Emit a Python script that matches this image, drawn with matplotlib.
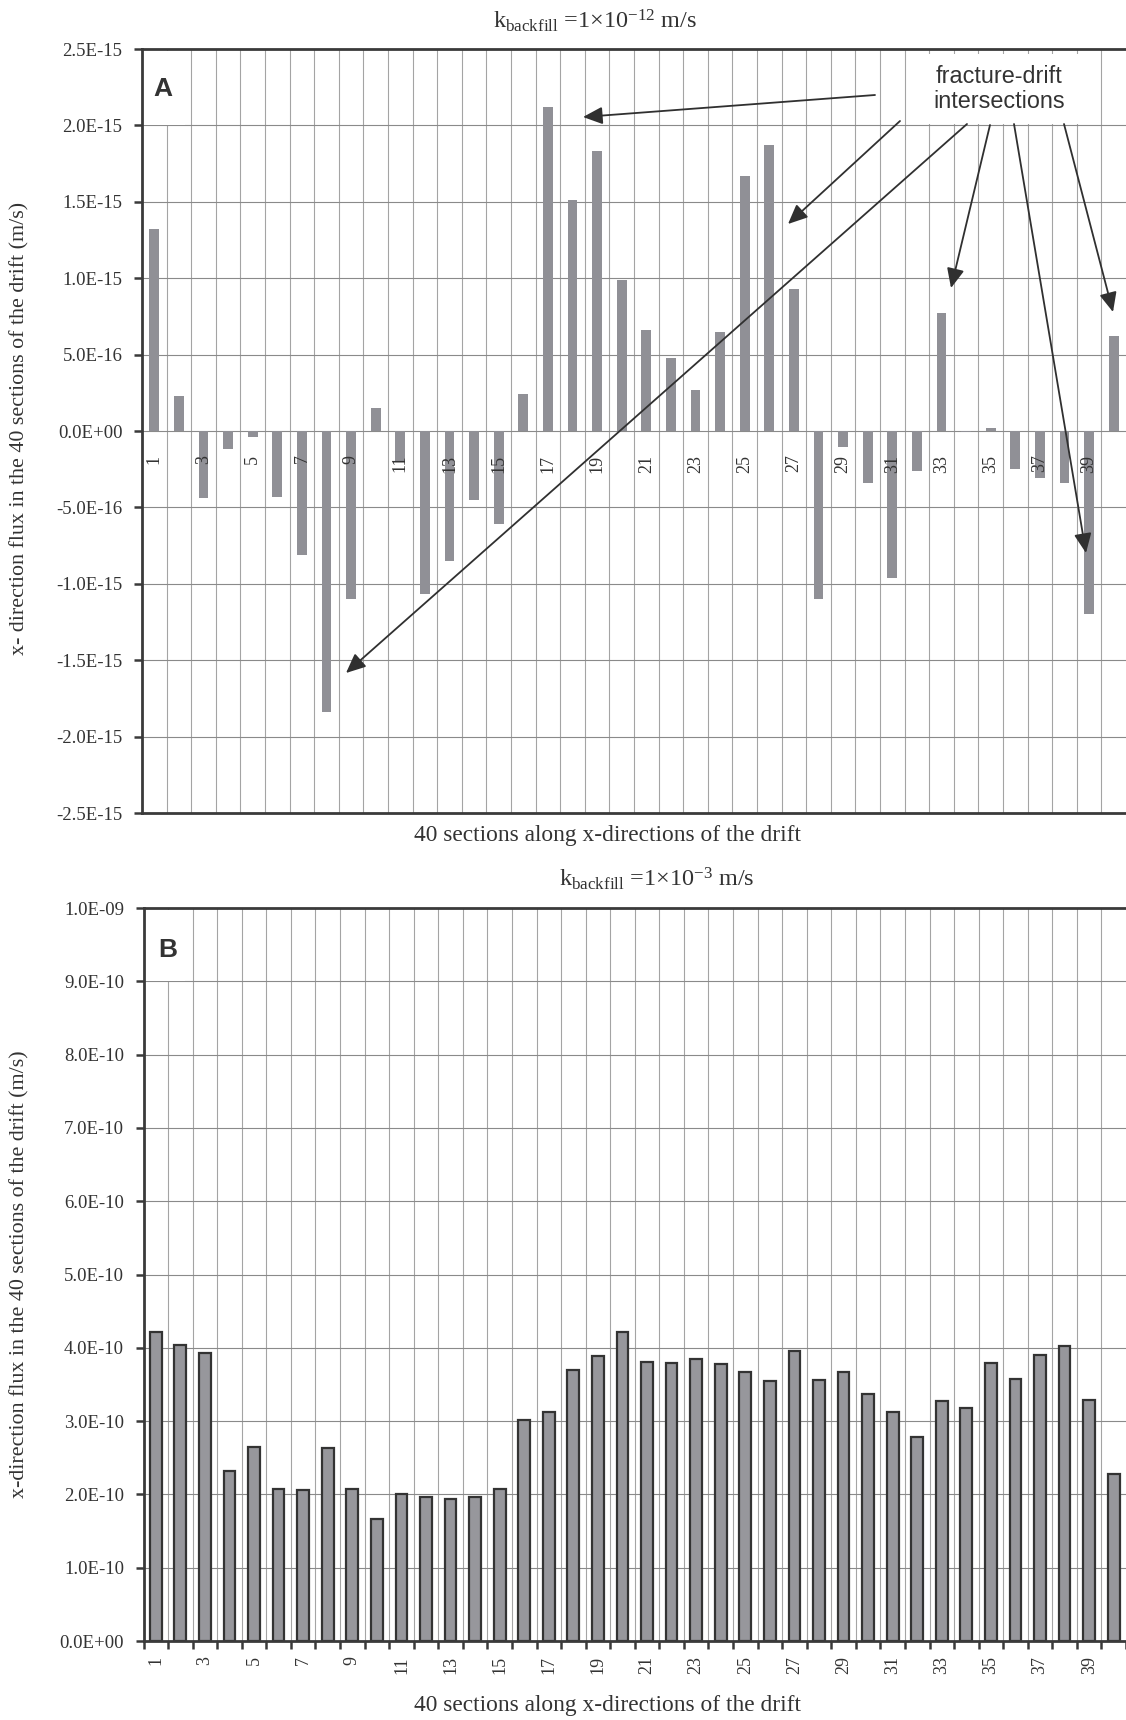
import matplotlib
matplotlib.use("Agg")
import matplotlib.pyplot as plt
from matplotlib.patches import Rectangle, FancyArrowPatch
import numpy as np

# ---------------- data ----------------
sections = list(range(1, 41))
# panel A: x-direction flux (m/s), k_backfill = 1e-12 m/s
flux_a = [1.32e-15, 0.23e-15, -0.44e-15, -0.12e-15, -0.04e-15, -0.43e-15, -0.81e-15, -1.84e-15, -1.10e-15, 0.15e-15,
          -0.20e-15, -1.07e-15, -0.85e-15, -0.45e-15, -0.61e-15, 0.24e-15, 2.12e-15, 1.51e-15, 1.83e-15, 0.99e-15,
          0.66e-15, 0.475e-15, 0.27e-15, 0.65e-15, 1.67e-15, 1.87e-15, 0.93e-15, -1.10e-15, -0.105e-15, -0.34e-15,
          -0.965e-15, -0.26e-15, 0.77e-15, -0.004e-15, 0.02e-15, -0.25e-15, -0.31e-15, -0.34e-15, -1.20e-15, 0.62e-15]
# panel B: x-direction flux (m/s), k_backfill = 1e-3 m/s
flux_b = [4.22e-10, 4.045e-10, 3.93e-10, 2.32e-10, 2.645e-10, 2.08e-10, 2.065e-10, 2.63e-10, 2.08e-10, 1.67e-10,
          2.005e-10, 1.965e-10, 1.935e-10, 1.965e-10, 2.08e-10, 3.015e-10, 3.13e-10, 3.70e-10, 3.885e-10, 4.215e-10,
          3.80e-10, 3.79e-10, 3.845e-10, 3.775e-10, 3.665e-10, 3.545e-10, 3.955e-10, 3.565e-10, 3.665e-10, 3.365e-10,
          3.13e-10, 2.785e-10, 3.275e-10, 3.18e-10, 3.795e-10, 3.57e-10, 3.90e-10, 4.02e-10, 3.285e-10, 2.275e-10]

yticks_a = [-2.5e-15, -2.0e-15, -1.5e-15, -1.0e-15, -5.0e-16, 0.0, 5.0e-16, 1.0e-15, 1.5e-15, 2.0e-15, 2.5e-15]
ytick_labels_a = ["-2.5E-15", "-2.0E-15", "-1.5E-15", "-1.0E-15", "-5.0E-16", "0.0E+00",
                  "5.0E-16", "1.0E-15", "1.5E-15", "2.0E-15", "2.5E-15"]
yticks_b = [0.0, 1e-10, 2e-10, 3e-10, 4e-10, 5e-10, 6e-10, 7e-10, 8e-10, 9e-10, 1e-9]
ytick_labels_b = ["0.0E+00", "1.0E-10", "2.0E-10", "3.0E-10", "4.0E-10", "5.0E-10",
                  "6.0E-10", "7.0E-10", "8.0E-10", "9.0E-10", "1.0E-09"]
section_labels = [str(s) for s in sections]

title_a = r"k$_{\mathregular{backfill}}$ =1×10$^{\mathregular{-12}}$ m/s"
title_b = r"k$_{\mathregular{backfill}}$ =1×10$^{\mathregular{-3}}$ m/s"
ylabel_a = "x- direction flux in the 40 sections of the drift (m/s)"
ylabel_b = "x-direction flux in the 40 sections of the drift (m/s)"
xlabel = "40 sections along x-directions of the drift"
annot_text = "fracture-drift\nintersections"

# ---------------- style ----------------
plt.rcParams["font.family"] = ["Liberation Serif", "DejaVu Serif"]
plt.rcParams["mathtext.fontset"] = "custom"
plt.rcParams["mathtext.rm"] = "Liberation Serif"
plt.rcParams["mathtext.it"] = "Liberation Serif:italic"

W, H = 1126, 1720
TXT = "#333333"
SPINE = "#3a3a3a"
fig = plt.figure(figsize=(W / 100, H / 100), dpi=100)


def fx(px):
    return px / W


def fy(py):
    return 1 - py / H


def make_axes(left, top, right, bottom):
    return fig.add_axes([fx(left), fy(bottom), fx(right) - fx(left), (bottom - top) / H])


x = np.array(sections)
bounds = np.arange(0.5, 41.0, 1.0)

# ---------------- panel A ----------------
axA = make_axes(142, 49, 1126, 813)
axA.set_xlim(0.5, 40.5)
axA.set_ylim(-2.5e-15, 2.5e-15)
axA.set_axisbelow(True)
axA.bar(x, flux_a, width=0.4, color="#909096", edgecolor="none", zorder=2)
for b in bounds[1:-1]:
    axA.axvline(b, color="#a4a4a4", lw=0.8, zorder=0.5)
for t in yticks_a[1:-1]:
    axA.axhline(t, color="#8a8a8a", lw=0.8, zorder=0.5)
axA.set_yticks(yticks_a)
axA.set_yticklabels(ytick_labels_a)
axA.set_xticks([])
axA.tick_params(axis="y", direction="out", length=6, width=1.8, color=SPINE,
                labelsize=13.5, labelcolor=TXT, pad=8)
for s in ["left", "top", "bottom"]:
    axA.spines[s].set_color(SPINE)
    axA.spines[s].set_linewidth(2.0)
axA.spines["right"].set_visible(False)
for s, lab in zip(sections, section_labels):
    if s % 2 == 1:
        axA.annotate(lab, xy=(s, 0), xytext=(0, -17), textcoords="offset points",
                     rotation=90, ha="center", va="top", fontsize=13, color=TXT)

# white boxes behind labels
axA.add_patch(Rectangle((fx(143.5), fy(124.5)), fx(185) - fx(143.5), (124.5 - 51) / H,
                        transform=fig.transFigure, facecolor="white", edgecolor="none",
                        zorder=0.8, clip_on=False))
axA.add_patch(Rectangle((fx(915), fy(124)), fx(1091) - fx(915), (124 - 54) / H,
                        transform=fig.transFigure, facecolor="white", edgecolor="none",
                        zorder=0.8, clip_on=False))

fig.text(fx(163), fy(89), "A", family="Liberation Sans", weight="bold", fontsize=19,
         color=TXT, ha="center", va="center")
fig.text(fx(999), fy(89), annot_text, family="Liberation Sans", fontsize=16.8, color=TXT,
         ha="center", va="center", multialignment="center", linespacing=1.15)

arrows = [((875, 95), (583, 117)),
          ((900, 121), (788, 224)),
          ((967, 124), (346, 673)),
          ((990, 125), (951, 288)),
          ((1014, 124), (1086, 553)),
          ((1064, 124), (1113, 312))]
for (x0, y0), (x1, y1) in arrows:
    fig.add_artist(FancyArrowPatch((fx(x0), fy(y0)), (fx(x1), fy(y1)),
                                   transform=fig.transFigure,
                                   arrowstyle="-|>,head_length=0.85,head_width=0.38",
                                   mutation_scale=14, color="#303030", lw=1.3,
                                   shrinkA=0, shrinkB=0, zorder=5))

fig.text(fx(595), fy(21), title_a, fontsize=17.5, color=TXT, ha="center", va="center")
fig.text(fx(20), fy(428), ylabel_a, fontsize=15.8, color=TXT, rotation=90,
         ha="center", va="center")
fig.text(fx(607), fy(835), xlabel, fontsize=16.8, color=TXT, ha="center", va="center")

# ---------------- panel B ----------------
axB = make_axes(143.5, 908, 1126, 1641)
axB.set_xlim(0.5, 40.5)
axB.set_ylim(0, 1e-9)
axB.set_axisbelow(True)
axB.bar(x, flux_b, width=0.48, color="#97979c", edgecolor="#333333", linewidth=1.6, zorder=2)
for b in bounds[1:-1]:
    axB.axvline(b, color="#a4a4a4", lw=0.8, zorder=0.5)
for t in yticks_b[1:-1]:
    axB.axhline(t, color="#8a8a8a", lw=0.8, zorder=0.5)
axB.set_yticks(yticks_b)
axB.set_yticklabels(ytick_labels_b)
axB.set_xticks(bounds)
axB.set_xticklabels([])
axB.set_xticks([s for s in sections if s % 2 == 1], minor=True)
axB.set_xticklabels([l for s, l in zip(sections, section_labels) if s % 2 == 1],
                    minor=True, rotation=90, va="top")
axB.tick_params(axis="y", direction="out", length=6, width=1.8, color=SPINE,
                labelsize=13.5, labelcolor=TXT, pad=8)
axB.tick_params(axis="x", which="major", direction="out", length=6, width=1.8, color=SPINE)
axB.tick_params(axis="x", which="minor", length=0, pad=11, labelsize=13, labelcolor=TXT)
for s in ["left", "top", "bottom"]:
    axB.spines[s].set_color(SPINE)
    axB.spines[s].set_linewidth(2.0)
axB.spines["right"].set_visible(False)

axB.add_patch(Rectangle((fx(145), fy(980.5)), fx(185) - fx(145), (980.5 - 910) / H,
                        transform=fig.transFigure, facecolor="white", edgecolor="none",
                        zorder=0.8, clip_on=False))
fig.text(fx(168), fy(950), "B", family="Liberation Sans", weight="bold", fontsize=19,
         color=TXT, ha="center", va="center")

fig.text(fx(657), fy(879), title_b, fontsize=17.5, color=TXT, ha="center", va="center")
fig.text(fx(20), fy(1274), ylabel_b, fontsize=15.8, color=TXT, rotation=90,
         ha="center", va="center")
fig.text(fx(608), fy(1705), xlabel, fontsize=16.8, color=TXT, ha="center", va="center")

fig.savefig("out.png", dpi=100, facecolor="white")
